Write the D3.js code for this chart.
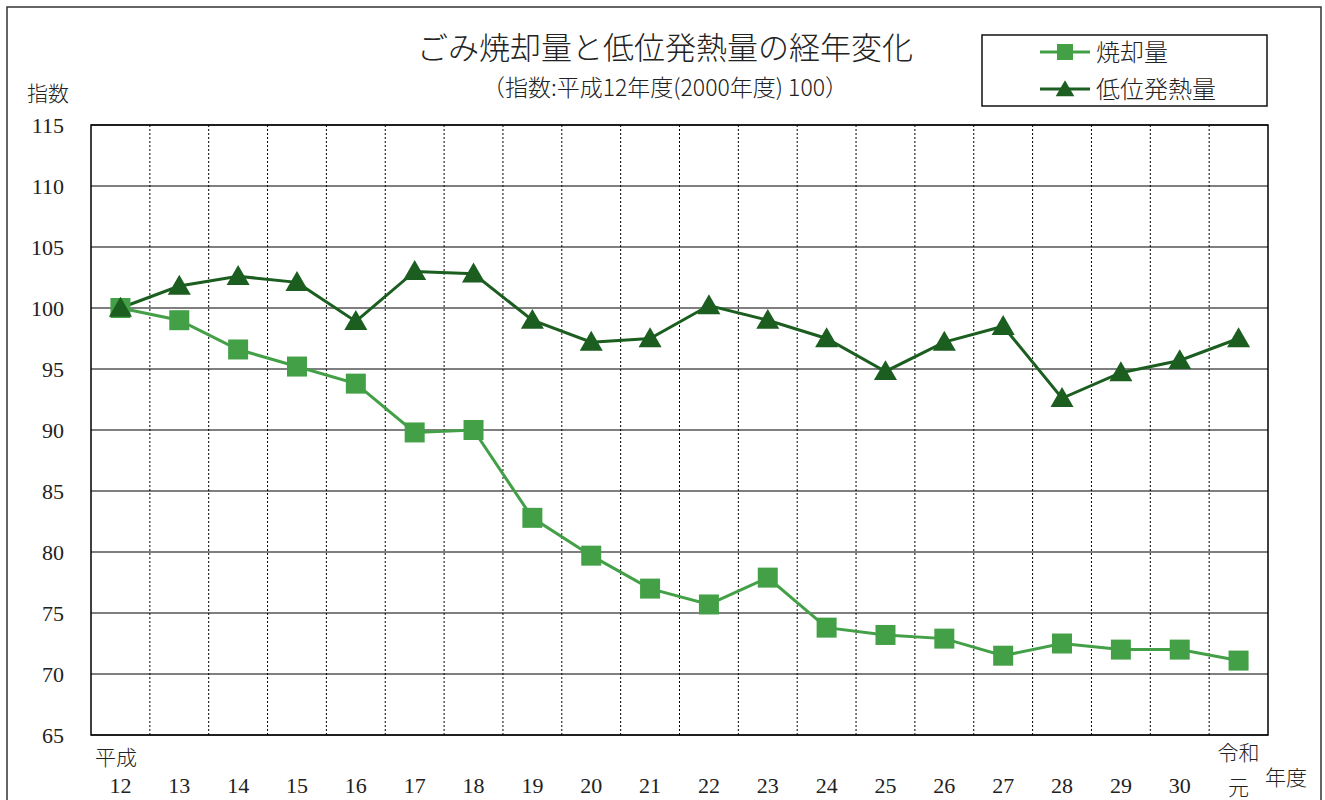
<!DOCTYPE html>
<html><head><meta charset="utf-8">
<script src="https://cdn.jsdelivr.net/npm/d3@7/dist/d3.min.js"></script>
<style>
body{margin:0;background:#fff;}
text{font-family:"Liberation Serif","DejaVu Serif","Noto Sans CJK JP",serif;fill:#222;}
</style></head><body>
<svg id="c" width="1325" height="800"></svg>
<script>
const years = ["12","13","14","15","16","17","18","19","20","21","22","23","24","25","26","27","28","29","30","元"];
const incineration = [100,99.0,96.6,95.2,93.8,89.8,90.0,82.8,79.7,77.0,75.7,77.9,73.8,73.2,72.9,71.5,72.5,72.0,72.0,71.1];
const heatValue = [100,101.8,102.6,102.1,98.9,103.0,102.8,99.0,97.2,97.5,100.2,99.0,97.5,94.8,97.2,98.5,92.6,94.7,95.7,97.5];
const yTicks = [65,70,75,80,85,90,95,100,105,110,115];
const seriesNames = ["焼却量","低位発熱量"];
const titleText = "ごみ焼却量と低位発熱量の経年変化";
const subtitleText = "（指数:平成12年度(2000年度) 100）";

const svg = d3.select("#c");
const L=91,R=1268,T=125,B=735;
const x = d3.scaleBand().domain(years).range([L,R]);
const y = d3.scaleLinear().domain([65,115]).range([B,T]);
const cx = d => x(d)+x.bandwidth()/2;
const CJK = "'Noto Sans CJK JP',sans-serif";

// outer border
svg.append("rect").attr("x",7).attr("y",7).attr("width",1314).attr("height",800).attr("fill","none").attr("stroke","#333").attr("stroke-width",1.5);

// horizontal grid
svg.append("g").selectAll("line").data(yTicks).join("line")
  .attr("x1",L).attr("x2",R).attr("y1",d=>y(d)).attr("y2",d=>y(d))
  .attr("stroke","#000").attr("stroke-width",1.2);
// vertical dotted grid
svg.append("g").selectAll("line").data(years.slice(1)).join("line")
  .attr("x1",d=>x(d)).attr("x2",d=>x(d)).attr("y1",T).attr("y2",B)
  .attr("stroke","#000").attr("stroke-width",1).attr("stroke-dasharray","2,2");
// plot frame
svg.append("rect").attr("x",L).attr("y",T).attr("width",R-L).attr("height",B-T).attr("fill","none").attr("stroke","#000").attr("stroke-width",1.5);

// y labels
const yAxis = d3.axisLeft(y).tickValues(yTicks).tickSize(0).tickPadding(27);
const ga = svg.append("g").attr("transform",`translate(${L},0)`).call(yAxis);
ga.select(".domain").remove();
ga.selectAll("text").style("font-size","22px").attr("fill","#222")
  .style("font-family","'Liberation Serif',serif");

svg.append("text").attr("x",27).attr("y",101).text("指数").style("font-size","21px")
  .style("font-family",CJK).attr("font-weight",300);

// x labels
const xg = svg.append("g");
xg.selectAll("text").data(years).join("text")
  .attr("x",d=>cx(d)).attr("y",d=> d==="元" ? 795 : 793).attr("text-anchor","middle")
  .style("font-size",d=> d==="元" ? "21px" : "22px")
  .style("font-family",d=> d==="元" ? CJK : "'Liberation Serif',serif")
  .attr("font-weight",300)
  .text(d=>d);
svg.append("text").attr("x",95).attr("y",765).text("平成").style("font-size","21px")
  .style("font-family",CJK).attr("font-weight",300);
svg.append("text").attr("x",cx("元")).attr("y",760).attr("text-anchor","middle").text("令和").style("font-size","21px")
  .style("font-family",CJK).attr("font-weight",300);
svg.append("text").attr("x",1265).attr("y",785).text("年度").style("font-size","21px")
  .style("font-family",CJK).attr("font-weight",300);

// title
svg.append("text").attr("x",665).attr("y",59).attr("text-anchor","middle").text(titleText)
  .style("font-size","31px").style("font-family",CJK).attr("font-weight",300);
svg.append("text").attr("x",665).attr("y",96).attr("text-anchor","middle").text(subtitleText)
  .style("font-size","23px").style("font-family",CJK).attr("font-weight",300);

const c1="#43a047", c2="#1b5e20";
const line = d3.line().x((d,i)=>cx(years[i])).y(d=>y(d));

// series lines
svg.append("path").datum(incineration).attr("d",line).attr("fill","none").attr("stroke",c1).attr("stroke-width",3);
svg.append("path").datum(heatValue).attr("d",line).attr("fill","none").attr("stroke",c2).attr("stroke-width",3);

const sq = d3.symbol().type(d3.symbolSquare).size(400);
const tri = d3.symbol().type(d3.symbolTriangle).size(230);
svg.append("g").selectAll("path").data(incineration).join("path")
  .attr("d",sq).attr("transform",(d,i)=>`translate(${cx(years[i])},${y(d)})`).attr("fill",c1);
svg.append("g").selectAll("path").data(heatValue).join("path")
  .attr("d",tri).attr("transform",(d,i)=>`translate(${cx(years[i])},${y(d)+2})`).attr("fill",c2);

// legend
svg.append("rect").attr("x",982).attr("y",35).attr("width",285).attr("height",71).attr("fill","#fff").attr("stroke","#111").attr("stroke-width",1.5);
const lg = [{n:seriesNames[0],c:c1,t:"sq",yy:52,dy:0},{n:seriesNames[1],c:c2,t:"tri",yy:89,dy:2}];
lg.forEach(e=>{
  svg.append("line").attr("x1",1040).attr("x2",1090).attr("y1",e.yy).attr("y2",e.yy).attr("stroke",e.c).attr("stroke-width",3);
  svg.append("path").attr("d",e.t==="sq" ? d3.symbol().type(d3.symbolSquare).size(256)() : d3.symbol().type(d3.symbolTriangle).size(150)())
    .attr("transform",`translate(1065,${e.yy+e.dy})`).attr("fill",e.c);
  svg.append("text").attr("x",1096).attr("y",e.yy+9).text(e.n).style("font-size","24px")
    .style("font-family",CJK).attr("font-weight",300);
});
</script></body></html>
